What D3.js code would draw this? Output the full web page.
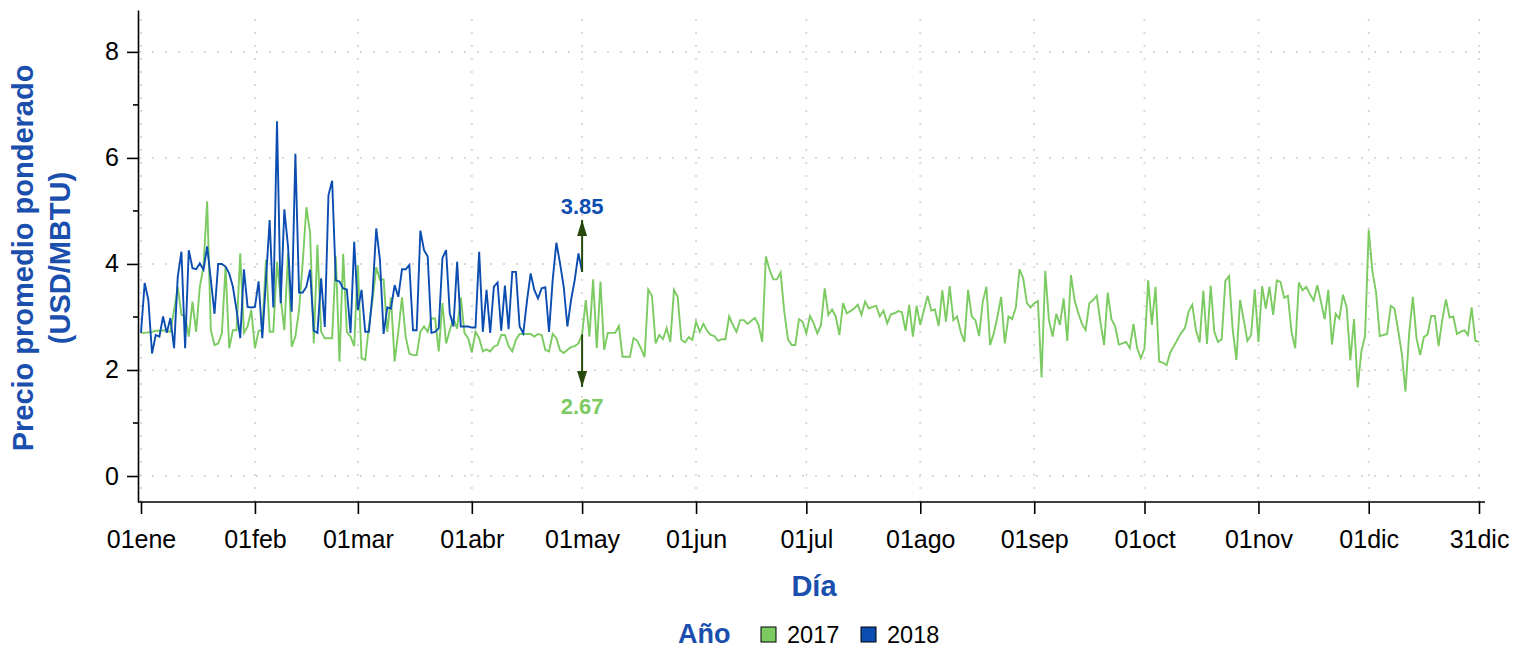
<!DOCTYPE html>
<html>
<head>
<meta charset="utf-8">
<script src="https://cdn.jsdelivr.net/npm/d3@7"></script>
<style>
  body { margin: 0; background: #fff; }
  svg { display: block; font-family: "Liberation Sans", Arial, Helvetica, sans-serif; }
  .grid line { stroke: #d9d9d9; stroke-width: 2; stroke-dasharray: 2, 11; }
  .axis path, .axis line { stroke: #000; stroke-width: 1.6; }
  .axis text { font-size: 25px; fill: #000; }
  .title { font-weight: bold; fill: #1a4fae; font-size: 29px; }
</style>
</head>
<body>
<svg id="chart" width="1528" height="649"></svg>
<script>
  // day-of-year tick positions and labels
  const tickDays = [0, 31, 59, 90, 120, 151, 181, 212, 243, 273, 304, 334, 364];
  const tickLabels = ["01ene", "01feb", "01mar", "01abr", "01may", "01jun", "01jul",
                      "01ago", "01sep", "01oct", "01nov", "01dic", "31dic"];
  const yTicks = [0, 2, 4, 6, 8];
  const yMinor = [1, 3, 5, 7];
  const years = ["2017", "2018"];

  // precio promedio ponderado diario (USD/MBTU)
  const values2017 = [
    2.70, 2.70, 2.71, 2.72, 2.74, 2.74, 2.75, 2.74, 2.72, 3.13,
    3.57, 3.04, 3.01, 2.63, 3.29, 2.72, 3.57, 3.95, 5.18, 2.75,
    2.47, 2.50, 2.69, 3.95, 2.41, 2.75, 2.75, 4.20, 2.70, 2.82,
    3.13, 2.41, 2.74, 2.75, 4.08, 2.72, 2.72, 4.04, 3.35, 2.75,
    4.20, 2.44, 2.63, 3.13, 4.04, 5.07, 4.58, 2.50, 4.36, 2.72,
    2.60, 2.60, 2.60, 4.14, 2.16, 4.19, 2.72, 2.63, 2.45, 3.98,
    2.22, 2.19, 2.82, 3.32, 3.94, 3.70, 3.71, 2.72, 3.37, 2.16,
    2.72, 3.37, 2.63, 2.31, 2.28, 2.28, 2.72, 2.82, 2.72, 2.97,
    2.97, 2.35, 3.26, 2.50, 2.75, 2.97, 2.78, 3.37, 2.70, 2.60,
    2.33, 2.72, 2.60, 2.35, 2.39, 2.35, 2.44, 2.47, 2.66, 2.66,
    2.45, 2.35, 2.57, 2.68, 2.68, 2.68, 2.68, 2.63, 2.68, 2.66,
    2.38, 2.35, 2.68, 2.60, 2.37, 2.32, 2.38, 2.43, 2.45, 2.50,
    2.67, 3.32, 2.63, 3.71, 2.41, 3.67, 2.38, 2.70, 2.70, 2.70,
    2.83, 2.25, 2.25, 2.25, 2.60, 2.55, 2.41, 2.24, 3.52, 3.40,
    2.50, 2.66, 2.58, 2.79, 2.53, 3.51, 3.38, 2.57, 2.52, 2.62,
    2.57, 2.91, 2.72, 2.87, 2.74, 2.66, 2.64, 2.55, 2.58, 2.58,
    3.01, 2.85, 2.72, 2.94, 2.94, 2.87, 2.93, 2.98, 2.85, 2.53,
    4.14, 3.89, 3.71, 3.71, 3.84, 3.10, 2.58, 2.47, 2.47, 2.96,
    2.91, 2.69, 3.02, 2.88, 2.69, 2.85, 3.54, 3.04, 3.14, 3.01,
    2.66, 3.26, 3.07, 3.11, 3.16, 3.23, 3.04, 3.29, 3.16, 3.19,
    3.21, 3.01, 3.12, 2.88, 3.05, 3.07, 3.11, 3.09, 2.74, 3.23,
    2.63, 3.21, 2.85, 3.13, 3.40, 3.12, 3.14, 2.83, 3.50, 2.91,
    3.58, 2.94, 3.01, 2.72, 2.53, 3.51, 3.01, 2.94, 2.64, 3.29,
    3.57, 2.47, 2.69, 3.01, 3.38, 2.50, 3.01, 2.96, 3.18, 3.90,
    3.73, 3.26, 3.18, 3.26, 3.30, 1.86, 3.87, 2.94, 2.63, 3.06,
    2.85, 3.35, 2.55, 3.79, 3.31, 3.07, 2.87, 2.75, 3.26, 3.32,
    3.40, 2.91, 2.47, 3.46, 2.96, 2.83, 2.48, 2.50, 2.53, 2.41,
    2.87, 2.41, 2.22, 2.41, 3.69, 2.85, 3.57, 2.16, 2.14, 2.09,
    2.33, 2.45, 2.58, 2.70, 2.79, 3.10, 3.23, 2.75, 2.52, 3.50,
    2.49, 3.59, 2.72, 2.53, 2.58, 3.68, 3.77, 2.75, 2.19, 3.32,
    2.94, 2.55, 2.66, 3.52, 2.53, 3.58, 3.16, 3.57, 3.04, 3.69,
    3.66, 3.36, 3.40, 2.72, 2.41, 3.65, 3.50, 3.57, 3.43, 3.31,
    3.60, 3.29, 2.96, 3.51, 2.48, 3.06, 2.97, 3.42, 3.18, 2.18,
    2.96, 1.67, 2.35, 2.64, 4.65, 3.86, 3.46, 2.64, 2.66, 2.68,
    3.21, 3.16, 2.75, 2.31, 1.59, 2.69, 3.38, 2.60, 2.28, 2.62,
    2.67, 3.02, 3.02, 2.45, 2.94, 3.33, 2.99, 3.01, 2.68, 2.72,
    2.75, 2.66, 3.18, 2.55, 2.53
  ];
  const values2018 = [
    2.70, 3.64, 3.32, 2.31, 2.66, 2.63, 3.01, 2.70, 2.98, 2.41,
    3.76, 4.23, 2.41, 4.26, 3.92, 3.90, 4.01, 3.89, 4.33, 3.70,
    3.06, 4.00, 4.00, 3.95, 3.82, 3.57, 3.13, 2.60, 3.90, 3.19,
    3.18, 3.19, 3.67, 2.60, 3.70, 4.83, 3.18, 6.69, 3.26, 5.03,
    4.33, 3.10, 6.08, 3.46, 3.46, 3.57, 3.89, 2.74, 2.70, 3.73,
    2.81, 5.30, 5.57, 3.69, 3.67, 3.54, 3.52, 2.70, 4.42, 3.13,
    3.51, 2.72, 2.72, 3.45, 4.67, 4.08, 2.68, 3.18, 3.16, 3.60,
    3.38, 3.90, 3.90, 3.98, 2.75, 2.75, 4.63, 4.26, 4.14, 2.70,
    2.72, 2.79, 4.11, 4.26, 3.07, 2.82, 4.04, 2.82, 2.82, 2.82,
    2.80, 2.80, 4.23, 2.72, 3.51, 2.70, 3.57, 3.65, 2.74, 3.59,
    2.77, 3.85, 3.85, 2.82, 2.69, 3.30, 3.82, 3.51, 3.35, 3.54,
    3.56, 2.72, 3.70, 4.40, 4.01, 3.57, 2.82, 3.32, 3.70, 4.20,
    3.85
  ];
  // last 2018 day compared with same day 2017
  const compareDay = 120;
  const compareValues = [3.85, 2.67];

  const colors = ["#7ccb62", "#0b4db0"];
  const arrowColor = "#27490c";

  const svg = d3.select("#chart");

  const x = d3.scaleLinear().domain([0, 364]).range([141, 1479]);
  const y = d3.scaleLinear().domain([-0.49, 8.79]).range([502, 10]);

  // dotted grid
  const grid = svg.append("g").attr("class", "grid");
  grid.selectAll("line.h").data(yTicks).join("line")
    .attr("x1", x(0) - 2).attr("x2", x(364) + 4)
    .attr("y1", d => y(d)).attr("y2", d => y(d));
  grid.selectAll("line.v").data(tickDays).join("line")
    .attr("x1", d => x(d)).attr("x2", d => x(d))
    .attr("y1", y(-0.49)).attr("y2", y(8.79));

  // axes
  const xAxis = svg.append("g").attr("class", "axis")
    .attr("transform", `translate(0,${y(-0.49)})`)
    .call(d3.axisBottom(x).tickValues(tickDays).tickFormat((d, i) => tickLabels[i])
      .tickSize(12).tickPadding(16).tickSizeOuter(0));
  xAxis.select(".domain").attr("d", `M${x(0) - 3},0H${x(364) + 6}`);

  const yAxis = svg.append("g").attr("class", "axis")
    .attr("transform", `translate(${x(0) - 3},0)`)
    .call(d3.axisLeft(y).tickValues(yTicks).tickSize(11).tickPadding(8).tickSizeOuter(0));
  yAxis.selectAll(".minor").data(yMinor).join("line")
    .attr("class", "minor")
    .attr("x1", -5).attr("x2", 0)
    .attr("y1", d => y(d)).attr("y2", d => y(d))
    .attr("stroke", "#000").attr("stroke-width", 1.6);

  // series
  const line = d3.line().x((d, i) => x(i)).y(d => y(d));
  [values2017, values2018].forEach((vals, k) => {
    svg.append("path").datum(vals)
      .attr("d", line)
      .attr("fill", "none")
      .attr("stroke", colors[k])
      .attr("stroke-width", 1.9)
      .attr("stroke-linejoin", "miter");
  });

  // annotation arrows
  svg.append("defs").append("marker").attr("id", "head")
    .attr("viewBox", "0 0 16 10").attr("refX", 16).attr("refY", 5)
    .attr("markerWidth", 16).attr("markerHeight", 10)
    .attr("markerUnits", "userSpaceOnUse").attr("orient", "auto")
    .append("path").attr("d", "M0,0L16,5L0,10Z").attr("fill", arrowColor);

  const offsets = [0.98, -0.99];
  const labelShift = [1.27, 1.37];
  compareValues.forEach((v, k) => {
    svg.append("line")
      .attr("x1", x(compareDay)).attr("x2", x(compareDay))
      .attr("y1", y(v)).attr("y2", y(v + offsets[k]))
      .attr("stroke", arrowColor).attr("stroke-width", 2)
      .attr("marker-end", "url(#head)");
    svg.append("text")
      .attr("x", x(compareDay)).attr("y", y(v + offsets[k] * labelShift[k]))
      .attr("dy", "0.36em")
      .attr("text-anchor", "middle")
      .attr("font-weight", "bold").attr("font-size", 22)
      .attr("fill", k === 0 ? colors[1] : colors[0])
      .text(v.toFixed(2));
  });

  // titles
  svg.append("text").attr("class", "title")
    .attr("x", (x(0) + x(364)) / 2 + 4).attr("y", 596)
    .attr("text-anchor", "middle").text("Día");
  const yTitle = svg.append("text").attr("class", "title")
    .attr("transform", "translate(33,258) rotate(-90)")
    .attr("text-anchor", "middle");
  yTitle.append("tspan").attr("x", 0).attr("y", 0).text("Precio promedio ponderado");
  yTitle.append("tspan").attr("x", 0).attr("y", 37).text("(USD/MBTU)");

  // legend
  const legend = svg.append("g").attr("transform", "translate(678,643)");
  legend.append("text").attr("class", "title").attr("x", 0).attr("y", 0)
    .attr("font-size", 27).style("font-size", "27px").text("Año");
  const items = legend.selectAll("g.item").data(years).join("g")
    .attr("class", "item")
    .attr("transform", (d, i) => `translate(${83 + i * 100},0)`);
  items.append("rect").attr("x", 0).attr("y", -16).attr("width", 15).attr("height", 15)
    .attr("fill", (d, i) => colors[i]).attr("stroke", "#000").attr("stroke-width", 1);
  items.append("text").attr("x", 26).attr("y", 0).attr("font-size", 23.5).text(d => d);
</script>
</body>
</html>
